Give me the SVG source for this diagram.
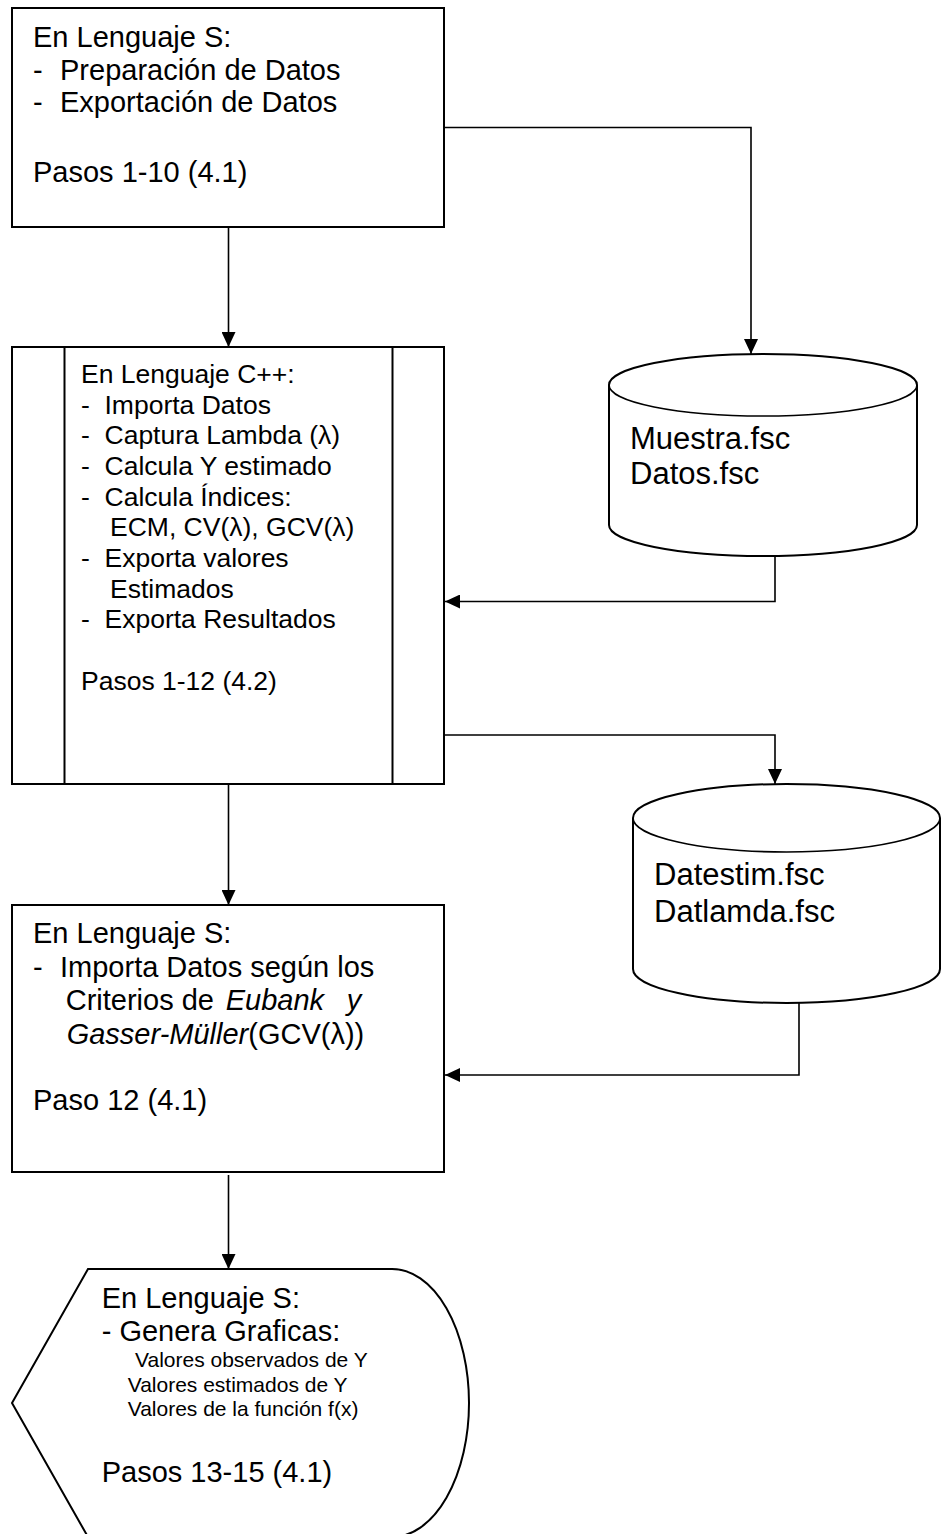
<svg xmlns="http://www.w3.org/2000/svg" width="951" height="1534" viewBox="0 0 951 1534">
  <style>
    text { font-family: "Liberation Sans", Arial, Helvetica, sans-serif; fill: #000; }
    .t29 { font-size: 29px; }
    .t26 { font-size: 26.5px; }
    .t31 { font-size: 31px; }
    .t21 { font-size: 21px; }
    .it { font-style: italic; }
    .shape { fill: #fff; stroke: #000; stroke-width: 2; }
    .edge { fill: none; stroke: #000; stroke-width: 1.6; }
  </style>
  <defs>
    <marker id="arrow" viewBox="0 0 15 14" refX="15" refY="7" markerWidth="15" markerHeight="14" markerUnits="userSpaceOnUse" orient="auto">
      <path d="M0,0 L15,7 L0,14 Z" fill="#000"/>
    </marker>
  </defs>
  <rect width="951" height="1534" fill="#fff"/>

  <!-- connectors -->
  <g id="connectors">
    <path class="edge" d="M228.5,227 L228.5,347" marker-end="url(#arrow)"/>
    <path class="edge" d="M444,127.5 L751,127.5 L751,354" marker-end="url(#arrow)"/>
    <path class="edge" d="M775,557 L775,601.5 L445,601.5" marker-end="url(#arrow)"/>
    <path class="edge" d="M444,735 L775,735 L775,784" marker-end="url(#arrow)"/>
    <path class="edge" d="M228.5,784 L228.5,905" marker-end="url(#arrow)"/>
    <path class="edge" d="M799,1003 L799,1075 L445,1075" marker-end="url(#arrow)"/>
    <path class="edge" d="M228.5,1175 L228.5,1269" marker-end="url(#arrow)"/>
  </g>

  <!-- S: data preparation -->
  <g id="node-s-prep">
    <rect class="shape" x="12" y="8" width="432" height="219"/>
    <text class="t29" x="33" y="47">En Lenguaje S:</text>
    <text class="t29" y="79.5"><tspan x="33">-</tspan><tspan x="60">Preparación de Datos</tspan></text>
    <text class="t29" y="112"><tspan x="33">-</tspan><tspan x="60">Exportación de Datos</tspan></text>
    <text class="t29" x="33" y="182">Pasos 1-10 (4.1)</text>
  </g>

  <!-- C++ predefined process -->
  <g id="node-cpp">
    <rect class="shape" x="12" y="347" width="432" height="437"/>
    <line x1="64.5" y1="347" x2="64.5" y2="784" stroke="#000" stroke-width="2"/>
    <line x1="392.5" y1="347" x2="392.5" y2="784" stroke="#000" stroke-width="2"/>
    <text class="t26" x="81" y="383">En Lenguaje C++:</text>
    <text class="t26" y="413.5"><tspan x="81">-</tspan><tspan x="104.5">Importa Datos</tspan></text>
    <text class="t26" y="444.3"><tspan x="81">-</tspan><tspan x="104.5">Captura Lambda (λ)</tspan></text>
    <text class="t26" y="475"><tspan x="81">-</tspan><tspan x="104.5">Calcula Y estimado</tspan></text>
    <text class="t26" y="505.7"><tspan x="81">-</tspan><tspan x="104.5">Calcula Índices:</tspan></text>
    <text class="t26" x="110" y="536.3">ECM, CV(λ), GCV(λ)</text>
    <text class="t26" y="567"><tspan x="81">-</tspan><tspan x="104.5">Exporta valores</tspan></text>
    <text class="t26" x="110" y="597.5">Estimados</text>
    <text class="t26" y="628"><tspan x="81">-</tspan><tspan x="104.5">Exporta Resultados</tspan></text>
    <text class="t26" x="81" y="690">Pasos 1-12 (4.2)</text>
  </g>

  <!-- data store: Muestra / Datos -->
  <g id="node-store-1">
    <path class="shape" d="M609,385 A154,31 0 0,1 917,385 L917,525 A154,31 0 0,1 609,525 Z"/>
    <path class="edge" stroke-width="2" d="M609,385 A154,31 0 0,0 917,385"/>
    <text class="t31" x="630" y="449">Muestra.fsc</text>
    <text class="t31" x="630" y="484">Datos.fsc</text>
  </g>

  <!-- data store: Datestim / Datlamda -->
  <g id="node-store-2">
    <path class="shape" d="M633,818 A153.5,34 0 0,1 940,818 L940,969 A153.5,34 0 0,1 633,969 Z"/>
    <path class="edge" stroke-width="2" d="M633,818 A153.5,34 0 0,0 940,818"/>
    <text class="t31" x="654" y="885">Datestim.fsc</text>
    <text class="t31" x="654" y="921.5">Datlamda.fsc</text>
  </g>

  <!-- S: import by criteria -->
  <g id="node-s-import">
    <rect class="shape" x="12" y="905" width="432" height="267"/>
    <text class="t29" x="33" y="943">En Lenguaje S:</text>
    <text class="t29" y="976.5"><tspan x="33">-</tspan><tspan x="60">Importa Datos según los</tspan></text>
    <text class="t29" y="1010"><tspan x="65.7">Criterios de </tspan><tspan class="it" x="225.7">Eubank</tspan><tspan class="it" x="346.7">y</tspan></text>
    <text class="t29" y="1043.5"><tspan class="it" x="66.7">Gasser-Müller</tspan><tspan>(GCV(λ))</tspan></text>
    <text class="t29" x="33" y="1110">Paso 12 (4.1)</text>
  </g>

  <!-- S: display of graphics -->
  <g id="node-s-display">
    <path class="shape" d="M88,1269 L392,1269 A77,134 0 0,1 392,1537 L88,1537 L12,1403 Z"/>
    <text class="t29" x="101.7" y="1307.7">En Lenguaje S:</text>
    <text class="t29" x="101.7" y="1341">- Genera Graficas:</text>
    <text class="t21" x="135" y="1366.7">Valores observados de Y</text>
    <text class="t21" x="127.7" y="1391.7">Valores estimados de Y</text>
    <text class="t21" x="127.7" y="1416">Valores de la función f(x)</text>
    <text class="t29" x="101.7" y="1481.7">Pasos 13-15 (4.1)</text>
  </g>
</svg>
